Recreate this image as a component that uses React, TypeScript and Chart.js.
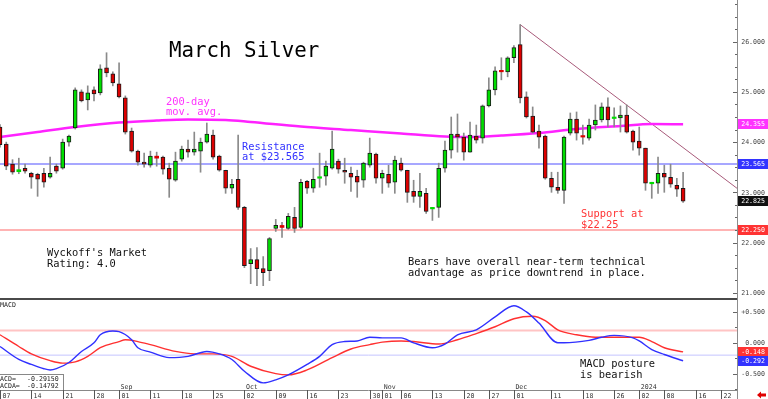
import React, { useEffect, useRef } from "react";
import { Chart, registerables } from "chart.js";
Chart.register(...registerables);

// ---------------- data (trading-day index 0 = Aug 07) ----------------
const OPEN = [
  24.30, 23.96, 23.56, 23.41, 23.48, 23.38, 23.36, 23.38, 23.30, 23.52,
  23.48, 24.00, 24.28, 25.00, 24.84, 25.04, 24.98, 25.48, 25.36, 25.16,
  24.88, 24.22, 23.82, 23.60, 23.54, 23.72, 23.70, 23.48, 23.24, 23.66,
  23.86, 23.80, 23.82, 24.00, 24.14, 23.72, 23.44, 23.08, 23.26, 22.70,
  21.58, 21.66, 21.48, 21.44, 22.28, 22.34, 22.28, 22.50, 22.30, 23.22,
  23.08, 23.28, 23.32, 23.48, 23.62, 23.44, 23.38, 23.32, 23.24, 23.54,
  23.76, 23.28, 23.36, 23.20, 23.58, 23.44, 23.02, 22.92, 22.98, 22.67,
  22.70, 23.48, 23.84, 24.16, 24.10, 23.80, 24.12, 24.08, 24.72, 25.04,
  25.42, 25.40, 25.68, 25.94, 24.90, 24.52, 24.22, 24.12, 23.28, 23.10,
  23.04, 24.18, 24.46, 24.12, 24.08, 24.34, 24.44, 24.70, 24.47, 24.48,
  24.54, 24.22, 24.02, 23.88, 23.17, 23.18, 23.38, 23.30, 23.14, 23.08,
];
const HIGH = [
  24.35, 24.00, 23.65, 23.68, 23.56, 23.40, 23.38, 23.48, 23.70, 23.56,
  24.06, 24.14, 25.08, 25.04, 25.12, 25.10, 25.54, 25.78, 25.40, 25.58,
  24.92, 24.28, 23.84, 23.78, 23.82, 23.80, 23.72, 23.58, 23.80, 23.92,
  24.04, 24.20, 24.08, 24.38, 24.24, 23.74, 23.44, 23.26, 24.14, 22.72,
  21.88, 21.90, 21.72, 22.10, 22.46, 22.40, 22.58, 22.70, 23.26, 23.24,
  23.48, 23.78, 23.62, 24.22, 23.66, 23.68, 23.50, 23.44, 23.60, 24.08,
  23.78, 23.44, 23.54, 23.72, 23.68, 23.44, 23.24, 23.38, 23.08, 22.70,
  23.58, 24.02, 24.50, 24.56, 24.18, 24.40, 24.34, 24.74, 25.28, 25.50,
  25.68, 25.70, 25.92, 26.34, 25.00, 24.70, 24.34, 24.14, 23.40, 23.40,
  24.12, 24.58, 24.60, 24.34, 24.46, 24.74, 24.78, 24.88, 24.68, 24.72,
  24.74, 24.24, 24.30, 23.88, 23.20, 23.70, 23.54, 23.56, 23.28, 23.40,
];
const LOW = [
  23.90, 23.45, 23.36, 23.37, 23.38, 23.08, 22.92, 23.10, 23.28, 23.38,
  23.46, 23.92, 24.26, 24.80, 24.64, 24.82, 24.94, 25.30, 25.12, 24.88,
  24.16, 23.80, 23.54, 23.50, 23.50, 23.52, 23.36, 22.90, 23.22, 23.62,
  23.70, 23.74, 23.40, 23.98, 23.66, 23.42, 22.98, 22.98, 22.66, 21.50,
  21.18, 21.14, 21.14, 21.24, 22.22, 22.10, 22.26, 22.20, 22.28, 22.98,
  23.00, 23.10, 23.14, 23.46, 23.38, 23.18, 23.02, 22.90, 23.10, 23.50,
  23.18, 22.98, 23.10, 22.98, 23.42, 22.80, 22.80, 22.70, 22.58, 22.44,
  22.50, 23.40, 23.68, 23.80, 23.64, 23.80, 23.98, 23.98, 24.70, 24.94,
  25.24, 25.30, 25.58, 24.78, 24.48, 24.18, 23.88, 23.26, 23.00, 22.98,
  22.78, 24.14, 24.04, 23.96, 24.04, 24.24, 24.40, 24.30, 24.30, 24.20,
  24.18, 23.84, 23.74, 23.04, 22.88, 22.98, 23.00, 23.10, 22.92, 22.80,
];
const CLOSE = [
  23.95, 23.52, 23.40, 23.45, 23.42, 23.30, 23.26, 23.20, 23.38, 23.42,
  24.00, 24.12, 25.04, 24.82, 24.98, 24.96, 25.46, 25.38, 25.18, 24.90,
  24.20, 23.82, 23.60, 23.56, 23.72, 23.68, 23.46, 23.26, 23.62, 23.86,
  23.80, 23.86, 24.00, 24.16, 23.70, 23.44, 23.08, 23.16, 22.70, 21.54,
  21.66, 21.48, 21.40, 22.08, 22.34, 22.30, 22.52, 22.28, 23.20, 23.08,
  23.26, 23.30, 23.52, 23.86, 23.46, 23.40, 23.30, 23.20, 23.58, 23.78,
  23.28, 23.38, 23.18, 23.64, 23.44, 23.00, 22.92, 23.02, 22.62, 22.69,
  23.48, 23.84, 24.16, 24.10, 23.80, 24.14, 24.04, 24.72, 25.04, 25.42,
  25.40, 25.68, 25.88, 24.88, 24.50, 24.20, 24.10, 23.28, 23.10, 23.04,
  24.10, 24.46, 24.18, 24.10, 24.34, 24.44, 24.70, 24.44, 24.49, 24.54,
  24.20, 24.00, 23.88, 23.18, 23.19, 23.38, 23.30, 23.16, 23.06, 22.825,
];

// 200-day moving average (read at sampled trading-day indices)
const MA_IDX = [0, 6, 12, 19, 25, 30, 36, 40, 48, 56, 64, 71, 75, 80, 86, 92, 99, 104, 109];
const MA_VAL = [24.10, 24.20, 24.30, 24.39, 24.43, 24.45, 24.44, 24.40, 24.31, 24.24, 24.17, 24.11, 24.10, 24.13, 24.18, 24.26, 24.32, 24.36, 24.355];

const RESISTANCE = 23.565;
const SUPPORT = 22.25;
const TREND_IDX = [83, 117.6];
const TREND_VAL = [26.34, 23.08];

// MACD panel
const MACD_IDX = [0, 3, 5, 7, 8, 9, 11, 13, 15, 16, 18, 19, 21, 22, 24, 27, 30, 33, 35, 37, 39, 42, 44, 46, 49, 51, 53, 55, 57, 59, 61, 64, 66, 69, 71, 73, 76, 79, 82, 84, 86, 89, 90, 94, 96, 98, 101, 102, 104, 106, 109];
const MACD_VAL = [-0.06, -0.27, -0.35, -0.42, -0.44, -0.42, -0.32, -0.14, 0.0, 0.13, 0.19, 0.18, 0.05, -0.08, -0.15, -0.24, -0.22, -0.14, -0.18, -0.27, -0.46, -0.65, -0.60, -0.52, -0.35, -0.22, -0.03, 0.02, 0.03, 0.09, 0.08, 0.08, 0.0, -0.08, -0.02, 0.13, 0.21, 0.42, 0.60, 0.50, 0.32, 0.0, 0.0, 0.04, 0.09, 0.12, 0.08, 0.03, -0.11, -0.19, -0.2915];
const SIG_IDX = [0, 3, 5, 8, 10, 12, 14, 16, 19, 20, 22, 24, 28, 31, 34, 37, 40, 44, 46, 49, 53, 56, 59, 61, 64, 66, 70, 73, 76, 79, 82, 85, 87, 89, 92, 95, 98, 102, 104, 106, 109];
const SIG_VAL = [0.13, -0.06, -0.18, -0.29, -0.33, -0.31, -0.22, -0.08, 0.02, 0.05, 0.02, -0.03, -0.14, -0.18, -0.18, -0.22, -0.38, -0.50, -0.52, -0.44, -0.24, -0.10, -0.03, 0.01, 0.03, 0.02, -0.02, 0.05, 0.15, 0.26, 0.39, 0.43, 0.36, 0.21, 0.13, 0.09, 0.09, 0.09, 0.02, -0.08, -0.14792];
const MACD_LAST = -0.29150;
const SIG_LAST = -0.14792;
const MACD_REF = [0.2, -0.2];

// axes
const PRICE_TICKS = [21, 22, 23, 24, 25, 26];
const MACD_TICKS = [0.5, 0, -0.5];
const TICK_IDX = [0, 5, 10, 15, 19, 24, 29, 34, 39, 44, 49, 54, 59, 61, 64, 69, 74, 78, 82, 88, 93, 98, 102, 106, 111, 115];
const TICK_LBL = ["07", "14", "21", "28", "01", "11", "18", "25", "02", "09", "16", "23", "30", "01", "06", "13", "20", "27", "01", "11", "18", "26", "02", "08", "16", "22"];
const MONTH_IDX = [19, 39, 61, 82, 102];
const MONTH_LBL = ["Sep", "Oct", "Nov", "Dec", "2024"];

const X_MIN = 0;
const X_MAX = 117.6;
const PRICE_MIN = 20.895;
const PRICE_MAX = 26.83;
const MACD_MIN = -0.765;
const MACD_MAX = 0.726;

// ---------------- layout / style ----------------
const W = 768;
const TOP_H = 298;
const BOT_H = 101;
const AXIS_W = 31;
const DATE_ROW = 9;
const MONO = "'DejaVu Sans Mono', monospace";
const SMALL = `6.6px ${MONO}`;
const NOTE = `10.4px ${MONO}`;
const GREEN = "#00dd00";
const RED = "#dd0000";

function fix3(v: number) {
  const r = Math.sign(v) * Math.round(Math.abs(v) * 1000 + 1e-6) / 1000;
  return r.toFixed(3);
}

function lines(ctx: CanvasRenderingContext2D, txt: string[], x: number, y: number, lh: number, font: string, color: string) {
  ctx.save();
  ctx.font = font;
  ctx.fillStyle = color;
  ctx.textAlign = "left";
  ctx.textBaseline = "alphabetic";
  txt.forEach((t, k) => ctx.fillText(t, x, y + k * lh));
  ctx.restore();
}

function axis(chart: any, ticks: number[], fmt: (v: number) => string, step: number) {
  const { ctx, chartArea } = chart;
  const ys = chart.scales.y;
  const x0 = chartArea.right;
  ctx.save();
  ctx.strokeStyle = "#8c8c8c";
  ctx.lineWidth = 1;
  ctx.beginPath();
  ctx.moveTo(x0 + 0.5, 0);
  ctx.lineTo(x0 + 0.5, chart.height);
  ctx.stroke();
  ctx.strokeStyle = "#666";
  const lo = Math.ceil(ys.min / step) * step;
  for (let v = lo; v <= ys.max; v += step) {
    const y = Math.round(ys.getPixelForValue(v)) + 0.5;
    const major = ticks.some((t) => Math.abs(t - v) < 1e-6);
    ctx.beginPath();
    ctx.moveTo(x0 - (major ? 4 : 2), y);
    ctx.lineTo(x0, y);
    ctx.stroke();
  }
  ctx.font = SMALL;
  ctx.fillStyle = "#444";
  ctx.textAlign = "right";
  ctx.textBaseline = "middle";
  ticks.forEach((t) => ctx.fillText(fmt(t), 765, ys.getPixelForValue(t) + 0.5));
  ctx.restore();
}

function tag(chart: any, value: number, text: string, bg: string) {
  const { ctx, chartArea } = chart;
  const y = Math.round(chart.scales.y.getPixelForValue(value));
  ctx.save();
  ctx.fillStyle = bg;
  ctx.fillRect(chartArea.right + 1, y - 5, W - chartArea.right - 1, 10);
  ctx.fillStyle = "#fff";
  ctx.font = SMALL;
  ctx.textAlign = "right";
  ctx.textBaseline = "middle";
  ctx.fillText(text, 765, y + 0.5);
  ctx.restore();
}

const topPlugin = {
  id: "topDecor",
  afterDatasetsDraw(chart: any) {
    const ctx = chart.ctx;
    lines(ctx, ["March Silver"], 169, 57, 0, `20.8px ${MONO}`, "#000");
    lines(ctx, ["200-day", "mov. avg."], 166, 104.5, 10.7, NOTE, "#ff33ff");
    lines(ctx, ["Resistance", `at $${RESISTANCE.toFixed(3)}`], 242, 149.5, 10.2, NOTE, "#3333ff");
    lines(ctx, ["Wyckoff's Market", "Rating: 4.0"], 47, 256, 11, NOTE, "#111");
    lines(ctx, ["Bears have overall near-term technical", "advantage as price downtrend in place."], 408, 264.5, 11, NOTE, "#111");
    lines(ctx, ["Support at", `$${SUPPORT.toFixed(2)}`], 581, 217, 10.7, NOTE, "#ff3333");
  },
  afterDraw(chart: any) {
    axis(chart, PRICE_TICKS, (v) => v.toFixed(3), 0.25);
    const ma = MA_VAL[MA_VAL.length - 1];
    const last = CLOSE[CLOSE.length - 1];
    tag(chart, ma, fix3(ma), "#ff33ff");
    tag(chart, RESISTANCE, fix3(RESISTANCE), "#3333ff");
    tag(chart, last, fix3(last), "#111");
    tag(chart, SUPPORT, fix3(SUPPORT), "#ff3333");
  },
};

const botPlugin = {
  id: "botDecor",
  afterDatasetsDraw(chart: any) {
    const ctx = chart.ctx;
    lines(ctx, ["MACD posture", "is bearish"], 580, 69, 10.7, NOTE, "#111");
  },
  afterDraw(chart: any) {
    const { ctx, chartArea } = chart;
    const xs = chart.scales.x;
    const right = chartArea.right;
    const rowTop = chartArea.bottom;
    ctx.save();
    // separator between panels
    ctx.fillStyle = "#4a4a4a";
    ctx.fillRect(0, 0, right, 2);
    // MACD label
    ctx.font = SMALL;
    ctx.fillStyle = "#222";
    ctx.textAlign = "left";
    ctx.textBaseline = "alphabetic";
    ctx.fillText("MACD", 0, 9);
    // value box
    ctx.fillStyle = "#fff";
    ctx.fillRect(-1, rowTop - 16, 65, 16);
    ctx.strokeStyle = "#888";
    ctx.lineWidth = 1;
    ctx.strokeRect(-1.5, rowTop - 15.5, 65, 16);
    ctx.fillStyle = "#222";
    ctx.fillText("MACD=", -4, rowTop - 9.5);
    ctx.fillText("MACDA=", -4, rowTop - 2);
    ctx.fillText(MACD_LAST.toFixed(5), 27, rowTop - 9.5);
    ctx.fillText(SIG_LAST.toFixed(5), 27, rowTop - 2);
    // date row
    ctx.fillStyle = "#fff";
    ctx.fillRect(0, rowTop, right, DATE_ROW);
    ctx.strokeStyle = "#888";
    ctx.beginPath();
    ctx.moveTo(0, rowTop + 0.5);
    ctx.lineTo(right, rowTop + 0.5);
    ctx.stroke();
    ctx.strokeStyle = "#555";
    ctx.fillStyle = "#333";
    TICK_IDX.forEach((ix, k) => {
      const x = Math.round(xs.getPixelForValue(ix)) + 0.5;
      ctx.beginPath();
      ctx.moveTo(x, rowTop);
      ctx.lineTo(x, chart.height);
      ctx.stroke();
      ctx.fillText(TICK_LBL[k], x + 2, chart.height - 1.5);
    });
    MONTH_IDX.forEach((ix, k) => {
      const x = xs.getPixelForValue(ix);
      ctx.fillText(MONTH_LBL[k], x + 1.5, rowTop - 1);
    });
    // red arrow
    ctx.fillStyle = "#e00000";
    ctx.beginPath();
    ctx.moveTo(757, 97);
    ctx.lineTo(761, 93.5);
    ctx.lineTo(761, 95.5);
    ctx.lineTo(766, 95.5);
    ctx.lineTo(766, 98.5);
    ctx.lineTo(761, 98.5);
    ctx.lineTo(761, 100.5);
    ctx.closePath();
    ctx.fill();
    ctx.restore();
    axis(chart, MACD_TICKS, (v) => (v > 0 ? "+" + v.toFixed(3) : v.toFixed(3)), 0.25);
    tag(chart, SIG_LAST, fix3(SIG_LAST), "#ff3333");
    tag(chart, MACD_LAST, fix3(MACD_LAST), "#3333ff");
  },
};

function pts(xs: number[], ys: number[]) {
  return xs.map((x, k) => ({ x, y: ys[k] }));
}

export default function App() {
  const topRef = useRef<HTMLCanvasElement>(null);
  const botRef = useRef<HTMLCanvasElement>(null);

  useEffect(() => {
    const wickData = CLOSE.map((_, i) => ({ x: i, y: [LOW[i], HIGH[i]] }));
    const bodyData = CLOSE.map((c, i) => ({ x: i, y: [OPEN[i], c] }));
    const bodyColors = CLOSE.map((c, i) => (c >= OPEN[i] ? GREEN : RED));
    const bodyBorder = CLOSE.map((c, i) => (Math.abs(c - OPEN[i]) < 0.04 ? 0 : 1));

    const top = new Chart(topRef.current as HTMLCanvasElement, {
      type: "bar",
      data: {
        datasets: [
          {
            type: "bar",
            data: bodyData as any,
            backgroundColor: bodyColors,
            borderColor: "#1a1a1a",
            borderWidth: bodyBorder as any,
            borderSkipped: false,
            barThickness: 4,
            minBarLength: 1.5,
            grouped: false,
            order: 0,
          } as any,
          {
            type: "bar",
            data: wickData as any,
            backgroundColor: "#8a8a8a",
            borderWidth: 0,
            barThickness: 1,
            grouped: false,
            order: 1,
          } as any,
          {
            type: "line",
            data: pts(MA_IDX, MA_VAL),
            borderColor: "#ff22ff",
            borderWidth: 2.5,
            pointRadius: 0,
            cubicInterpolationMode: "monotone",
            order: 2,
          } as any,
          {
            type: "line",
            data: pts(TREND_IDX, TREND_VAL),
            borderColor: "#a85a7a",
            borderWidth: 1,
            pointRadius: 0,
            order: 3,
          } as any,
          {
            type: "line",
            data: pts([X_MIN, X_MAX], [RESISTANCE, RESISTANCE]),
            borderColor: "#8a8aff",
            borderWidth: 1.5,
            pointRadius: 0,
            order: 4,
          } as any,
          {
            type: "line",
            data: pts([X_MIN, X_MAX], [SUPPORT, SUPPORT]),
            borderColor: "#ff9a9a",
            borderWidth: 1.5,
            pointRadius: 0,
            order: 5,
          } as any,
        ],
      },
      options: {
        animation: false,
        responsive: false,
        events: [],
        layout: { padding: { left: 0, top: 0, right: AXIS_W, bottom: 0 } },
        plugins: { legend: { display: false }, tooltip: { enabled: false } },
        scales: {
          x: { type: "linear", min: X_MIN, max: X_MAX, display: false, offset: false },
          y: { type: "linear", min: PRICE_MIN, max: PRICE_MAX, display: false },
        },
      } as any,
      plugins: [topPlugin as any],
    });

    const bot = new Chart(botRef.current as HTMLCanvasElement, {
      type: "line",
      data: {
        datasets: [
          {
            data: pts([X_MIN, X_MAX], [MACD_REF[0], MACD_REF[0]]),
            borderColor: "#ffc4c4",
            borderWidth: 2,
            pointRadius: 0,
            order: 4,
          },
          {
            data: pts([X_MIN, X_MAX], [MACD_REF[1], MACD_REF[1]]),
            borderColor: "#c4c4ff",
            borderWidth: 1,
            pointRadius: 0,
            order: 3,
          },
          {
            data: pts(SIG_IDX, SIG_VAL),
            borderColor: "#ff3030",
            borderWidth: 1.4,
            pointRadius: 0,
            cubicInterpolationMode: "monotone",
            order: 2,
          },
          {
            data: pts(MACD_IDX, MACD_VAL),
            borderColor: "#3030ff",
            borderWidth: 1.4,
            pointRadius: 0,
            cubicInterpolationMode: "monotone",
            order: 1,
          },
        ] as any,
      },
      options: {
        animation: false,
        responsive: false,
        events: [],
        layout: { padding: { left: 0, top: 0, right: AXIS_W, bottom: DATE_ROW } },
        plugins: { legend: { display: false }, tooltip: { enabled: false } },
        scales: {
          x: { type: "linear", min: X_MIN, max: X_MAX, display: false },
          y: { type: "linear", min: MACD_MIN, max: MACD_MAX, display: false },
        },
      } as any,
      plugins: [botPlugin as any],
    });

    return () => {
      top.destroy();
      bot.destroy();
    };
  }, []);

  return (
    <div style={{ width: W, height: TOP_H + BOT_H, background: "#fff", position: "relative" }}>
      <style>{`body{margin:0;background:#fff;}`}</style>
      <canvas ref={topRef} width={W} height={TOP_H} style={{ display: "block", width: W, height: TOP_H }} />
      <canvas ref={botRef} width={W} height={BOT_H} style={{ display: "block", width: W, height: BOT_H }} />
    </div>
  );
}
